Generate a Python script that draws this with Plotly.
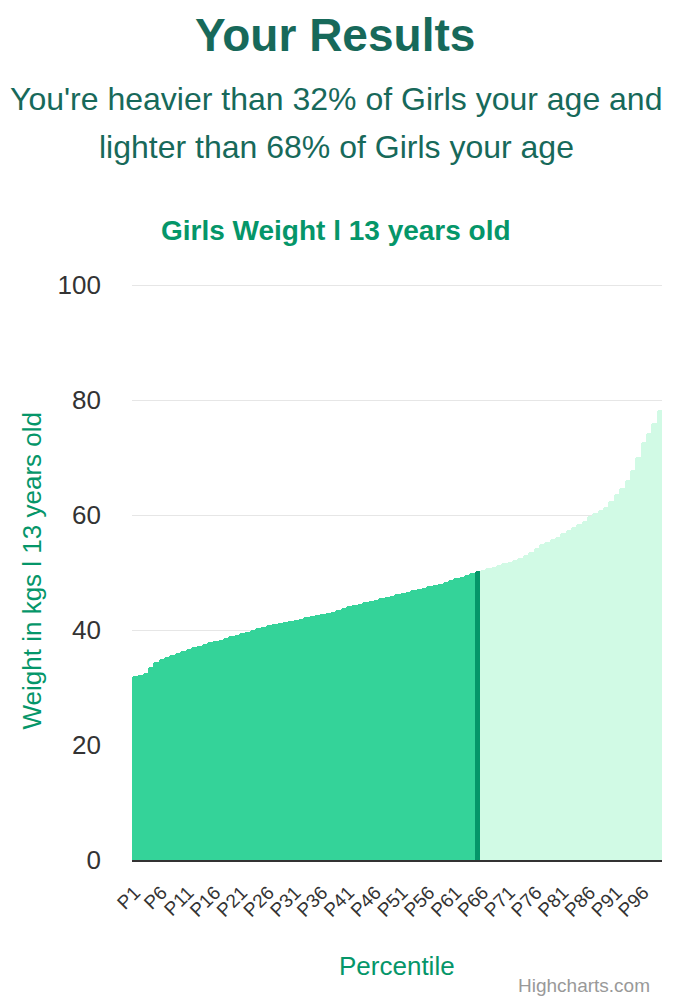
"""Percentile bar chart: girls weight at 13 years old"""
import plotly.graph_objects as go

# percentile labels P1..P99
percentiles = ["P" + str(i) for i in range(1, 100)]

# weight (kg), one per percentile
weights = [
    32.0, 32.2, 32.6, 33.6, 34.4, 34.9, 35.3, 35.7, 36.0, 36.3,
    36.7, 37.0, 37.3, 37.6, 37.9, 38.1, 38.3, 38.6, 38.9, 39.2,
    39.5, 39.7, 40.0, 40.3, 40.6, 40.8, 41.0, 41.2, 41.4, 41.6,
    41.8, 42.0, 42.2, 42.4, 42.6, 42.8, 43.0, 43.2, 43.5, 43.8,
    44.1, 44.4, 44.6, 44.8, 45.0, 45.2, 45.5, 45.7, 46.0, 46.2,
    46.5, 46.7, 46.9, 47.1, 47.4, 47.6, 47.8, 48.1, 48.4, 48.7,
    49.0, 49.3, 49.6, 49.9, 50.3, 50.5, 50.8, 51.0, 51.3, 51.6,
    51.9, 52.2, 52.6, 53.0, 53.5, 54.2, 55.0, 55.4, 55.8, 56.2,
    56.8, 57.4, 58.0, 58.5, 59.0, 59.8, 60.3, 60.8, 61.4, 62.4,
    63.6, 64.8, 66.1, 67.8, 70.1, 72.7, 74.3, 76.1, 78.2,
]

user_percentile = "P65"
tick_labels = percentiles[::5]

FONT = "Helvetica, Liberation Sans, Arial, sans-serif"
DARK = "#34d399"
HIGHLIGHT = "#059669"
LIGHT = "#d1fae5"
HEAD = "#17695a"

user_idx = percentiles.index(user_percentile)
colours = []
for i in range(len(percentiles)):
    if i < user_idx:
        colours.append(DARK)
    elif i == user_idx:
        colours.append(HIGHLIGHT)
    else:
        colours.append(LIGHT)

fig = go.Figure(
    go.Bar(
        x=percentiles,
        y=weights,
        marker=dict(color=colours, line=dict(width=0), cornerradius=2.5),
        hoverinfo="x+y",
    )
)

# the page body has an 8px margin, so the figure is 8px smaller each way
fig.update_layout(
    width=666,
    height=992,
    autosize=False,
    plot_bgcolor="white",
    paper_bgcolor="white",
    font=dict(family=FONT, color="#333333"),
    margin=dict(l=124, r=12, t=276, b=140),
    bargap=0,
    showlegend=False,
)

fig.update_xaxes(
    type="category",
    tickmode="array",
    tickvals=tick_labels,
    ticktext=tick_labels,
    tickangle=-45,
    tickfont=dict(size=19, color="#333333"),
    ticklabelstandoff=12,
    showline=True,
    linecolor="#333333",
    linewidth=2,
    showgrid=False,
    ticks="",
)

fig.update_yaxes(
    range=[0, 100.2],
    tickvals=[0, 20, 40, 60, 80, 100],
    showgrid=True,
    gridcolor="#e6e6e6",
    gridwidth=1,
    zeroline=False,
    showline=False,
    tickfont=dict(size=26, color="#333333"),
    ticklabelstandoff=30,
)


# plot area runs from y=285px (paper 1) to y=860px (paper 0) in the reference
def py(ypx):
    return (860 - ypx) / 575


def px(xpx):
    return (xpx - 132) / 530


# main heading sits flush with the top of the figure
fig.add_annotation(
    text="<b>Your Results</b>",
    x=px(335),
    y=py(8),
    xref="paper",
    yref="paper",
    xanchor="center",
    yanchor="top",
    showarrow=False,
    font=dict(size=46, color=HEAD, family=FONT),
)

texts = [
    ("You're heavier than 32% of Girls your age and", 336, 100, 32, HEAD),
    ("lighter than 68% of Girls your age", 336, 148, 32, HEAD),
    ("<b>Girls Weight l 13 years old</b>", 336, 232, 28, HIGHLIGHT),
    ("Percentile", 397, 966, 26, HIGHLIGHT),
]

for text, x, y, size, colour in texts:
    fig.add_annotation(
        text=text,
        x=px(x),
        y=py(y),
        xref="paper",
        yref="paper",
        xanchor="center",
        yanchor="middle",
        showarrow=False,
        font=dict(size=size, color=colour, family=FONT),
    )

fig.add_annotation(
    text="Weight in kgs l 13 years old",
    x=px(32),
    y=py(572),
    xref="paper",
    yref="paper",
    xanchor="center",
    yanchor="middle",
    textangle=-90,
    showarrow=False,
    font=dict(size=26, color=HIGHLIGHT, family=FONT),
)

fig.add_annotation(
    text="Highcharts.com",
    x=px(652),
    y=py(985),
    xref="paper",
    yref="paper",
    xanchor="right",
    yanchor="middle",
    showarrow=False,
    font=dict(size=19, color="#999999", family=FONT),
)

fig.write_html("out.html")
